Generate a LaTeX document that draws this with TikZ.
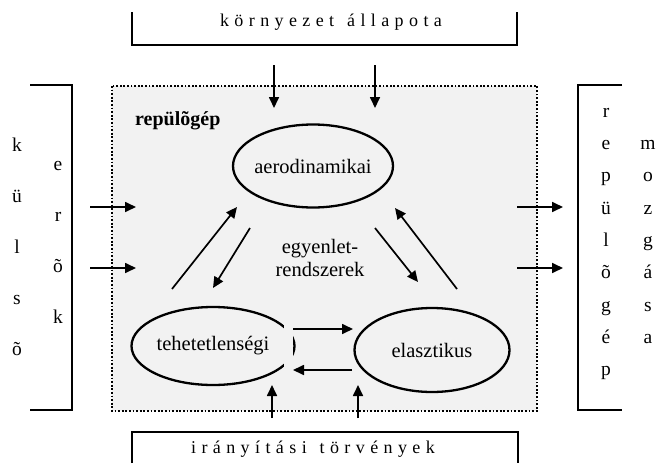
\documentclass[tikz,border=0pt]{standalone}
\usepackage{fontspec}
\setmainfont{Liberation Serif}
\newfontfamily\ritkitott[LetterSpace=30]{Liberation Serif}
\usepackage{tikz}
\usetikzlibrary{arrows.meta,shapes}

\begin{document}
\begin{tikzpicture}[x=1pt,y=-1pt,>={Triangle[length=11pt,width=10pt]},
nyil/.style={->,line width=1.7pt},
keret/.style={line width=2.3pt},
tag/.style={ellipse,draw,line width=2.3pt,label={[font=\fontsize{20.5}{24}\selectfont]center:#1}},
betu/.style={anchor=base,inner sep=0pt,font=\fontsize{19.5}{22}\selectfont}]
\useasboundingbox (0,0) rectangle (658,463);
% a repulogep doboza
\draw[fill=black!5,line width=1.8pt,dash pattern=on 1.8pt off 1.8pt](112,86) rectangle (537,411);
\node[anchor=base west,inner sep=0pt,font=\bfseries\fontsize{20}{24}\selectfont](repulogep) at (135,125){repülõgép};
\node[tag=aerodinamikai,minimum width=160pt,minimum height=83pt](aero) at (313,166){};
\node[tag=tehetetlenségi,minimum width=163pt,minimum height=78pt](tehet) at (213,346){};
\node[tag=elasztikus,minimum width=155pt,minimum height=84pt](elaszt) at (432,350){};
\fill[black!5](284,320) rectangle (292.5,376);
\node[align=center,font=\fontsize{20.5}{23}\selectfont](egyenlet) at (320,258){egyenlet-\\rendszerek};
% belso nyilak
\path(172,289)coordinate(d1)(237,207)coordinate(d1v)
(250,228)coordinate(d2)(213,288)coordinate(d2v)
(375,228)coordinate(d3)(418,282)coordinate(d3v)
(457,289)coordinate(d4)(395,208)coordinate(d4v)
(293,329)coordinate(h1)(353,329)coordinate(h1v)
(352,370)coordinate(h2)(293,370)coordinate(h2v);
\draw[nyil](d1)--(d1v);
\draw[nyil](d2)--(d2v);
\draw[nyil](d3)--(d3v);
\draw[nyil](d4)--(d4v);
\draw[nyil](h1)--(h1v);
\draw[nyil](h2)--(h2v);
% kornyezet allapota
\draw[keret](132,12)|-(517,45)--(517,12);
\node[anchor=base,inner sep=0pt,font={\ritkitott\fontsize{18}{20}\selectfont}](kornyezet) at (331,27){környezet\hspace{3pt} állapota};
\path(274,65)coordinate(ka)(274,108)coordinate(kav)
(375,65)coordinate(kb)(375,108)coordinate(kbv);
\draw[nyil](ka)--(kav);
\draw[nyil](kb)--(kbv);
% iranyitasi torvenyek
\draw[keret](132,463)|-(518,432)--(518,463);
\node[anchor=base,inner sep=0pt,font={\ritkitott\fontsize{18}{20}\selectfont}](iranyitas) at (313,453){irányítási\hspace{3pt} törvények};
\path(272,418)coordinate(ia)(272,385)coordinate(iav)
(358,418)coordinate(ib)(358,385)coordinate(ibv);
\draw[nyil](ia)--(iav);
\draw[nyil](ib)--(ibv);
% kulso erok
\draw[keret](30,85)-|(72,410)--(30,410);
\path(17,151)node[betu](k1){k}(17,202)node[betu](k2){ü}(17,253)node[betu](k3){l}
(17,304)node[betu](k4){s}(17,355)node[betu](k5){õ}
(58,170)node[betu](e1){e}(58,221)node[betu](e2){r}(58,272)node[betu](e3){õ}
(58,323)node[betu](e4){k};
\path(90,207)coordinate(ba)(136,207)coordinate(bav)
(90,268)coordinate(bb)(136,268)coordinate(bbv);
\draw[nyil](ba)--(bav);
\draw[nyil](bb)--(bbv);
% repulogep mozgasa
\draw[keret](622,85)-|(578,410)--(622,410);
\path(606,117)node[betu](r1){r}(606,149)node[betu](r2){e}(606,181)node[betu](r3){p}
(606,214)node[betu](r4){ü}(606,246)node[betu](r5){l}(606,278)node[betu](r6){õ}
(606,311)node[betu](r7){g}(606,343)node[betu](r8){é}(606,375)node[betu](r9){p}
(648,149)node[betu](m1){m}(648,181)node[betu](m2){o}(648,214)node[betu](m3){z}
(648,246)node[betu](m4){g}(648,278)node[betu](m5){á}(648,311)node[betu](m6){s}
(648,343)node[betu](m7){a};
\path(517,207)coordinate(ka1)(563,207)coordinate(ka1v)
(517,268)coordinate(ka2)(563,268)coordinate(ka2v);
\draw[nyil](ka1)--(ka1v);
\draw[nyil](ka2)--(ka2v);
\end{tikzpicture}
\end{document}
